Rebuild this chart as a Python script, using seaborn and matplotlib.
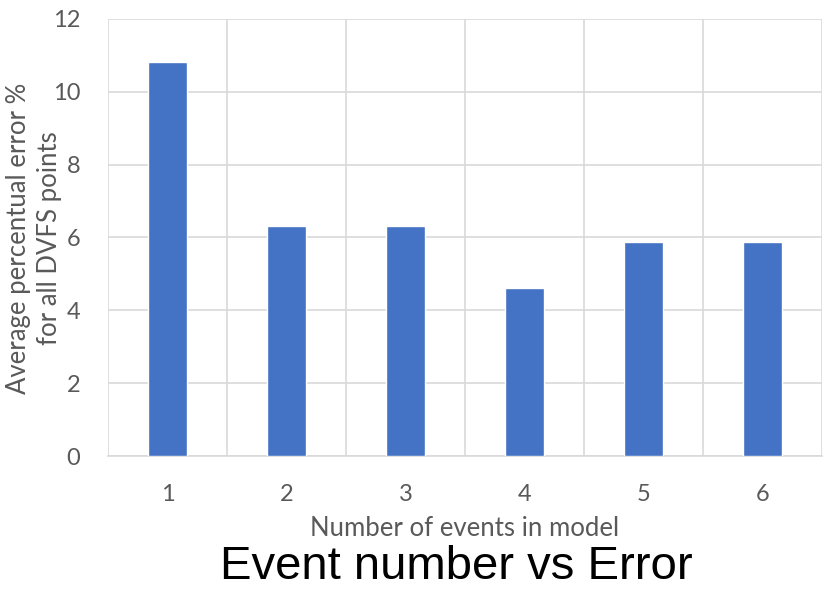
import matplotlib
matplotlib.use("Agg")
import matplotlib.pyplot as plt
import seaborn as sns
import pandas as pd
import numpy as np

# Average error per number of events used in the model
events = ["1", "2", "3", "4", "5", "6"]
avg_error = [10.82, 6.32, 6.32, 4.6, 5.87, 5.87]
y_ticks = [0, 2, 4, 6, 8, 10, 12]
y_label_lines = ["Average percentual error %", "for all DVFS points"]

df = pd.DataFrame({"events": events, "error": avg_error})

sns.set_theme(style="white")
plt.rcParams["font.family"] = ["Lato", "DejaVu Sans"]

gray = "#595959"
grid_gray = "#d9d9d9"

fig = plt.figure(figsize=(8.27, 5.92), dpi=100)
ax = fig.add_axes([0.1306, 0.2297, 0.8634, 0.7383])

sns.barplot(data=df, x="events", y="error", color="#4472C4", width=0.32,
            saturation=1, ax=ax, zorder=3)

ax.set_xlim(-0.5, len(events) - 0.5)
ax.set_ylim(0, 12)
ax.set_yticks(y_ticks)

# Category separators as vertical grid lines
ax.set_xticks(np.arange(-0.5, len(events)), minor=True)
ax.grid(axis="x", which="minor", color=grid_gray, linewidth=1.2, zorder=0)
ax.grid(axis="y", which="major", color=grid_gray, linewidth=1.2, zorder=0)
ax.grid(axis="x", which="major", visible=False)

for side in ["top", "right", "left"]:
    ax.spines[side].set_visible(False)
ax.spines["bottom"].set_color(grid_gray)
ax.spines["bottom"].set_linewidth(1.2)

ax.tick_params(axis="both", which="both", length=0, labelsize=17, colors=gray)
ax.tick_params(axis="x", pad=20)
ax.tick_params(axis="y", pad=20)

ax.set_xlabel("Number of events in model", fontsize=18.5, color=gray)
ax.xaxis.set_label_coords(0.5623, 0.108, transform=fig.transFigure)
ax.xaxis.label.set_va("center")

# Two-line y-axis title, each line placed on its own
ax.set_ylabel("")
for xpos, line in zip([0.022, 0.060], y_label_lines):
    fig.text(xpos, 0.598, line, rotation=90, ha="center", va="center",
             fontsize=18.5, color=gray)

fig.text(0.552, 0.042, "Event number vs Error", ha="center", va="center",
         fontsize=34, family=["Liberation Sans", "DejaVu Sans"], color="black")

fig.savefig("out.png", dpi=100)
